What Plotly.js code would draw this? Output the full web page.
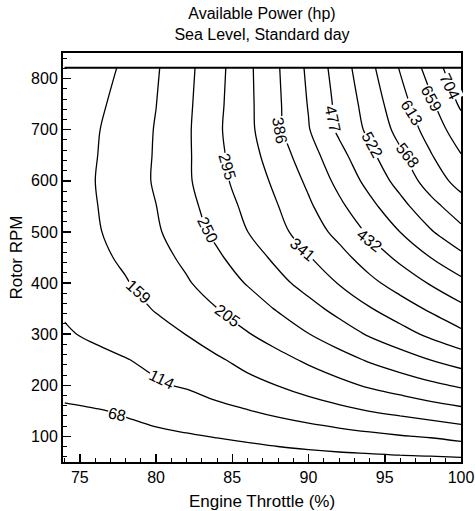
<!DOCTYPE html>
<html><head><meta charset="utf-8">
<script src="https://cdn.plot.ly/plotly-3.0.1.min.js"></script>
<style>html,body{margin:0;padding:0;background:#fff}#chart{width:475px;height:511px}</style>
</head><body><div id="chart"></div>
<script>
// Engine throttle (%) grid columns
const throttle = [74,76,78,80,82,84,86,88,90,92,94,96,98,100];
// Rotor RPM grid rows
const rpm = [50,100,150,200,250,300,350,400,450,500,550,600,650,700,750,821];
// Available power (hp), estimated from the contour picture: one row per rpm, one column per throttle
const power = [
 [33,35,37,39,41,42,43,46,48,50,51,53,54,55],
 [48,52,57,61,65,70,76,83,90,97,104,111,117,128],
 [64,66,72,81,90,101,112,124,136,148,160,171,183,194],
 [78,90,100,109,118,134,147,160,177,193,210,225,241,256],
 [93,102,112,124,137,154,172,191,212,233,255,275,296,316],
 [109,121,133,146,160,181,202,225,249,274,300,324,350,376],
 [119,132,145,162,181,204,228,254,281,309,338,365,393,421],
 [124,141,156,178,200,226,253,283,312,343,375,405,435,465],
 [128,148,167,189,214,243,274,306,338,371,407,441,477,511],
 [130,154,177,199,228,260,295,328,363,399,438,477,518,556],
 [131,157,180,204,236,271,306,340,379,422,465,508,553,593],
 [132,159,183,209,243,281,317,351,395,444,491,538,588,630],
 [130,157,182,208,243,285,323,365,412,463,512,560,610,657],
 [128,155,180,207,243,288,329,378,429,485,532,582,631,684],
 [125,149,176,204,241,285,330,380,434,489,542,596,650,711],
 [120,140,167,200,238,281,331,383,440,498,556,616,677,742]
];
// Contour levels (labels shown: 68, 114, ... 704)
const levelStart = 68.4, levelStep = 45.4, levelCount = 15;
const xTickVals = [75,80,85,90,95,100];
const yTickVals = [100,200,300,400,500,600,700,800];

// Label placement (throttle, rpm, angle) for each level, in level order
const labelPlacement = [
 [77.46,142,12],[80.4,212,26],[78.83,383,42],[84.67,336,36],[83.36,504,64],
 [84.67,628,74],[89.6,465,40],[88.1,698,80],[94.0,483,38],[91.6,720,78],
 [94.17,671,62],[96.5,649,52],[96.75,733,58],[98.05,761,62],[99.25,784,65]
];

const levels = [];
for (let i = 0; i < levelCount; i++) levels.push(levelStart + i * levelStep);

const contourTrace = {
  type: 'contour',
  x: throttle, y: rpm, z: power,
  autocontour: false,
  contours: {start: levelStart, end: levelStart + (levelCount - 1) * levelStep + 0.05, size: levelStep, coloring: 'none', showlabels: false},
  line: {color: '#000', width: 1.3, smoothing: 1},
  showscale: false, hoverinfo: 'skip'
};
const topEdge = {
  type: 'scatter', mode: 'lines',
  x: [throttle[0], throttle[throttle.length - 1]],
  y: [rpm[rpm.length - 1], rpm[rpm.length - 1]],
  line: {color: '#000', width: 2}, hoverinfo: 'skip', showlegend: false
};

const annotations = levels.map((lv, i) => ({
  x: labelPlacement[i][0], y: labelPlacement[i][1], xref: 'x', yref: 'y',
  text: lv.toFixed(0), showarrow: false, textangle: labelPlacement[i][2],
  font: {size: 16, color: '#000', family: 'Liberation Sans, Arial, sans-serif'},
  bgcolor: '#fff', borderpad: 0
}));

const tickFont = {size: 16, color: '#000', family: 'Liberation Sans Narrow, Liberation Sans, Arial, sans-serif'};
const layout = {
  width: 475, height: 511,
  margin: {l: 63, r: 14, t: 53, b: 49},
  paper_bgcolor: '#fff', plot_bgcolor: '#fff',
  font: {family: 'Liberation Sans, Arial, sans-serif', color: '#000'},
  showlegend: false,
  title: {text: 'Available Power (hp)<br>Sea Level, Standard day', font: {size: 16, color: '#000'},
          x: 0.5, xref: 'paper', y: 0.962, yref: 'container', yanchor: 'top'},
  xaxis: {range: [73.9, 100], showgrid: false, zeroline: false, showline: true, linewidth: 2,
          linecolor: '#000', mirror: true, ticks: 'inside', ticklen: 8, tickwidth: 1.5, tickcolor: '#000',
          tickmode: 'array', tickvals: xTickVals, tickfont: tickFont,
          minor: {tick0: 74, dtick: 1, ticks: 'inside', ticklen: 4, tickwidth: 1, tickcolor: '#000', showgrid: false},
          title: {text: 'Engine Throttle (%)', font: {size: 17, color: '#000'}, standoff: 10}},
  yaxis: {range: [50, 850], showgrid: false, zeroline: false, showline: true, linewidth: 2,
          linecolor: '#000', mirror: true, ticks: 'inside', ticklen: 8, tickwidth: 1.5, tickcolor: '#000',
          tickmode: 'array', tickvals: yTickVals, tickfont: tickFont,
          minor: {tick0: 0, dtick: 20, ticks: 'inside', ticklen: 4, tickwidth: 1, tickcolor: '#000', showgrid: false},
          title: {text: 'Rotor RPM', font: {size: 17, color: '#000'}, standoff: 4}},
  annotations: annotations
};
Plotly.newPlot('chart', [contourTrace, topEdge], layout, {displayModeBar: false, staticPlot: true});
</script></body></html>
